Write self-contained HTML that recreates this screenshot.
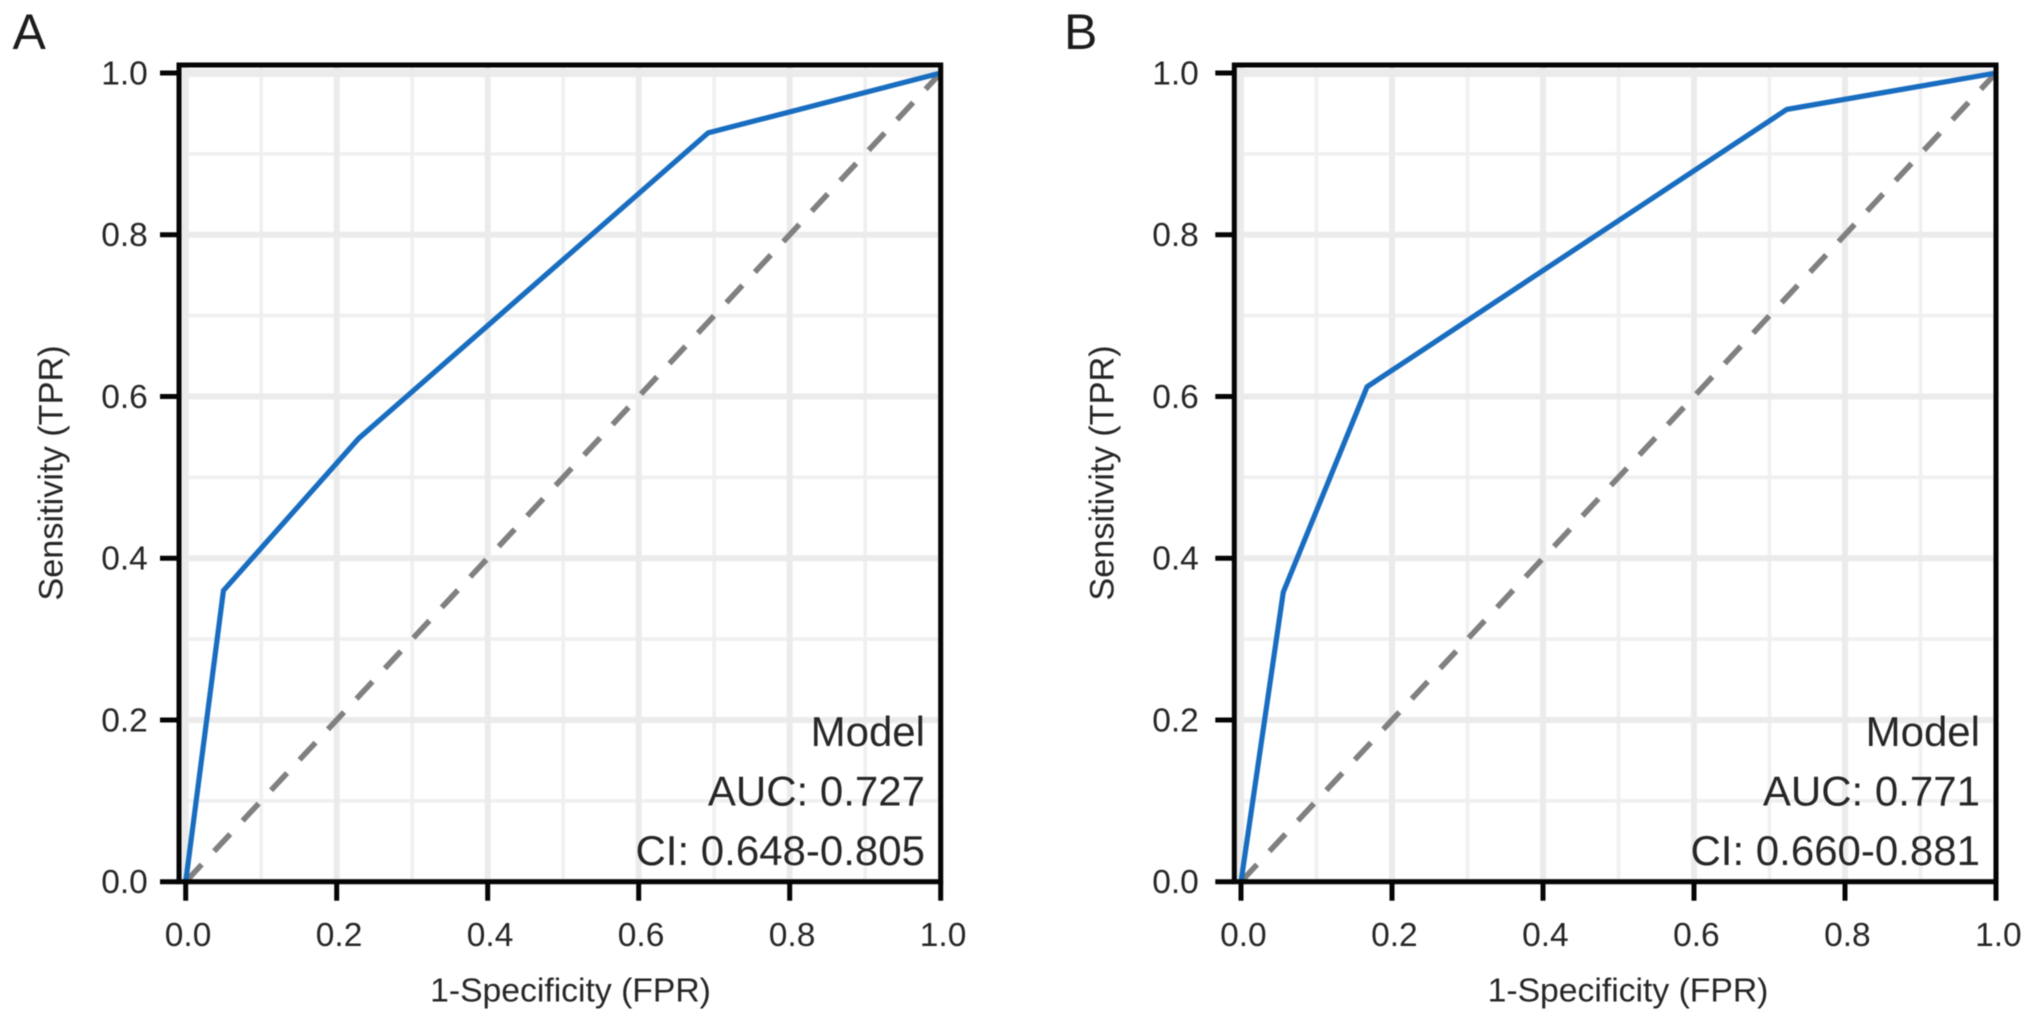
<!DOCTYPE html>
<html lang="en">
<head>
<meta charset="utf-8">
<title>ROC curves</title>
<style>
html,body{margin:0;padding:0;background:#fff;width:2032px;height:1022px;overflow:hidden}
svg{display:block;filter:blur(.6px)}
text{font-family:"Liberation Sans",Arial,sans-serif;fill:#262626}
</style>
</head>
<body>
<svg id="chart" xmlns="http://www.w3.org/2000/svg" width="2032" height="1022" viewBox="0 0 2032 1022">
  <rect width="2032" height="1022" fill="#fff"/>
  <text x="12.5" y="49" font-size="50" style="fill:#1c1c1c">A</text>
  <text x="1064" y="49" font-size="50" style="fill:#1c1c1c">B</text>
</svg>
<script>
// Axis ticks
const xTicks = [0, 0.2, 0.4, 0.6, 0.8, 1];
const yTicks = [0, 0.2, 0.4, 0.6, 0.8, 1];
const minorTicks = [0.1, 0.3, 0.5, 0.7, 0.9];
const xTickLabels = ['0.0', '0.2', '0.4', '0.6', '0.8', '1.0'];
const yTickLabels = ['0.0', '0.2', '0.4', '0.6', '0.8', '1.0'];

// Panel A series
const fprA = [0, 0.05, 0.229, 0.692, 1];
const tprA = [0, 0.36, 0.548, 0.926, 1];
const legendA = ['Model', 'AUC: 0.727', 'CI: 0.648-0.805'];

// Panel B series
const fprB = [0, 0.056, 0.167, 0.723, 1];
const tprB = [0, 0.358, 0.612, 0.955, 1];
const legendB = ['Model', 'AUC: 0.771', 'CI: 0.660-0.881'];

// Reference diagonal
const diagX = [0, 1];
const diagY = [0, 1];

const xTitle = '1-Specificity (FPR)';
const yTitle = 'Sensitivity (TPR)';

const NS = 'http://www.w3.org/2000/svg';
const svg = document.getElementById('chart');
const Y0 = 881.7, YSCALE = 808.7, XSCALE = 755;

function mk(parent, tag, attrs, txt) {
  const el = document.createElementNS(NS, tag);
  for (const k in attrs) el.setAttribute(k, attrs[k]);
  if (txt !== undefined) el.textContent = txt;
  parent.appendChild(el);
  return el;
}

function drawPanel(id, x0, fpr, tpr, legend, o) {
  const sx = v => x0 + v * XSCALE;
  const sy = v => Y0 - v * YSCALE;
  const left = x0 - 6.7, top = 65, right = sx(1), bottom = Y0;

  const g = mk(svg, 'g', {});
  
  

  const grid = mk(g, 'g', {});
  
  
  minorTicks.forEach(v => {
    const a = mk(grid, 'line', {x1: sx(v), x2: sx(v), y1: top, y2: bottom, stroke: '#f0f0f0', 'stroke-width': 3.6});
    
    
    const b = mk(grid, 'line', {x1: left, x2: right, y1: sy(v), y2: sy(v), stroke: '#f0f0f0', 'stroke-width': 3.6});
    
    
  });
  xTicks.forEach(v => {
    const a = mk(grid, 'line', {x1: v === 0 ? sx(v) - 1.5 : sx(v), x2: v === 0 ? sx(v) - 1.5 : sx(v), y1: top, y2: bottom, stroke: '#ebebeb', 'stroke-width': v === 0 ? 9 : 6});
    
    
  });
  yTicks.forEach(v => {
    const b = mk(grid, 'line', {x1: left, x2: right, y1: sy(v), y2: sy(v), stroke: '#ebebeb', 'stroke-width': v === 1 ? 8 : 6});
    
    
  });

  const diag = mk(g, 'polyline', {
    points: diagX.map((v, i) => sx(v) + ',' + sy(diagY[i])).join(' '),
    fill: 'none', stroke: '#808080', 'stroke-width': 5.6, 'stroke-dasharray': '23.5 18.2'
  });
  
  

  const curve = mk(g, 'polyline', {
    points: fpr.map((v, i) => sx(v) + ',' + sy(tpr[i])).join(' '),
    fill: 'none', stroke: '#186dc0', 'stroke-width': 5.2, 'stroke-linejoin': 'miter'
  });
  
  

  const frame = mk(g, 'rect', {x: left, y: top, width: right - left, height: bottom - top, fill: 'none', stroke: '#050505', 'stroke-width': 5});
  
  

  xTicks.forEach((v, i) => {
    const t = mk(g, 'line', {x1: sx(v), x2: sx(v), y1: bottom, y2: 900.7, stroke: '#050505', 'stroke-width': 5});
    
    
    const l = mk(g, 'text', {x: sx(v) + 2.4, y: 946, 'font-size': 33.5, 'text-anchor': 'middle'}, xTickLabels[i]);
    
    
  });
  yTicks.forEach((v, i) => {
    const t = mk(g, 'line', {x1: left - 19, x2: left, y1: sy(v), y2: sy(v), stroke: '#050505', 'stroke-width': 5});
    
    
    const l = mk(g, 'text', {x: o.yLabelRight, y: sy(v) + 11.5, 'font-size': 33.5, 'text-anchor': 'end'}, yTickLabels[i]);
    
    
  });

  const xt = mk(g, 'text', {x: o.xTitleX, y: 1001.7, 'font-size': 33.7, 'text-anchor': 'middle'}, xTitle);
  
  
  const yt = mk(g, 'text', {x: 0, y: 0, 'font-size': 34.3, 'text-anchor': 'middle', transform: 'translate(' + o.yTitleX + ',473) rotate(-90)'}, yTitle);
  
  

  const baselines = [746.2, 805.4, 865];
  legend.forEach((s, i) => {
    const t = mk(g, 'text', {x: o.legendRight, y: baselines[i], 'font-size': 42, 'text-anchor': 'end'}, s);
    
    
  });
}

drawPanel('panel-a', 185.7, fprA, tprA, legendA, {yLabelRight: 147.8, xTitleX: 570.5, yTitleX: 62.5, legendRight: 925});
drawPanel('panel-b', 1241, fprB, tprB, legendB, {yLabelRight: 1198.8, xTitleX: 1628, yTitleX: 1113.5, legendRight: 1980});
</script>
</body>
</html>
